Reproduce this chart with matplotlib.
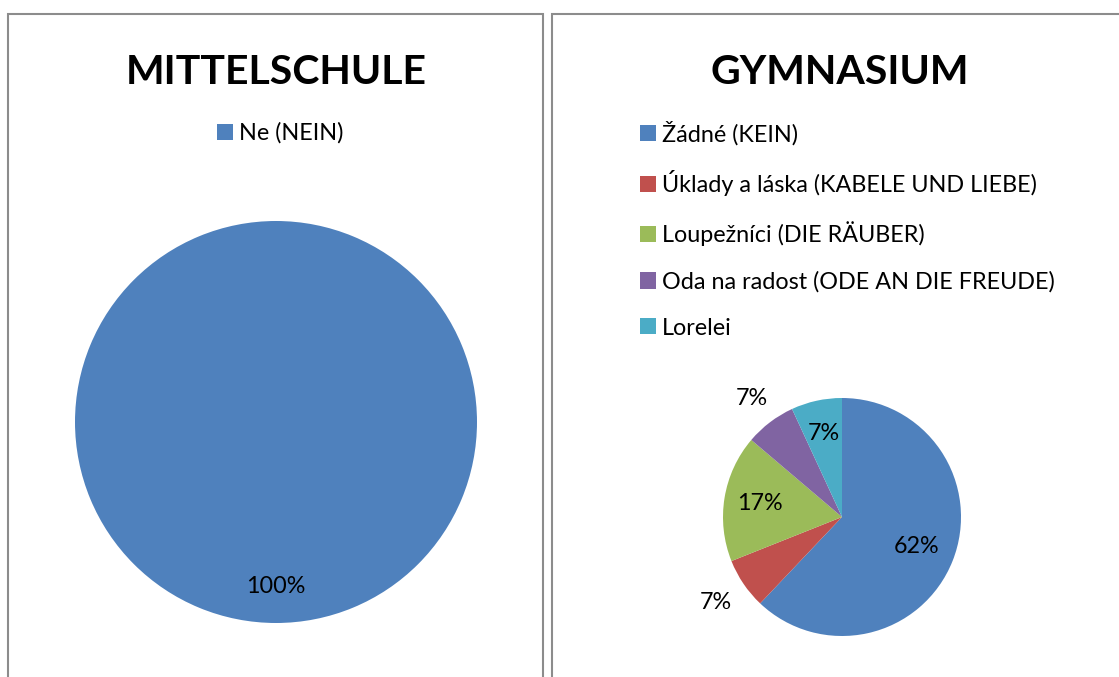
import matplotlib
matplotlib.use("Agg")
import matplotlib.pyplot as plt
from matplotlib.patches import Rectangle, Patch
import numpy as np

plt.rcParams['font.family'] = ['Lato', 'DejaVu Sans']

W, H = 1119, 677

# Data
ms_labels = ["Ne (NEIN)"]
ms_values = [100]
ms_pct_text = ["100%"]

gym_labels = ["Žádné (KEIN)", "Úklady a láska (KABELE UND LIEBE)",
              "Loupežníci (DIE RÄUBER)", "Oda na radost (ODE AN DIE FREUDE)",
              "Lorelei"]
gym_values = [18, 2, 5, 2, 2]
gym_pct_text = ["62%", "7%", "17%", "7%", "7%"]

colors = ["#4F81BD", "#C0504D", "#9BBB59", "#8064A2", "#4BACC6"]

fig = plt.figure(figsize=(W / 100, H / 100), dpi=100)

def fx(px):
    return px / W

def fy(py):
    return 1 - py / H

# Panel borders
border_col = "#8C8C8C"
fig.patches.append(Rectangle((fx(8), fy(700)), fx(543) - fx(8), fy(14) - fy(700),
                             transform=fig.transFigure, fill=False,
                             edgecolor=border_col, linewidth=1.5))
fig.patches.append(Rectangle((fx(552), fy(700)), fx(1140) - fx(552), fy(14) - fy(700),
                             transform=fig.transFigure, fill=False,
                             edgecolor=border_col, linewidth=1.5))

# Titles
fig.text(fx(276), fy(73), "MITTELSCHULE", ha="center", va="center",
         fontsize=29.5, fontweight="bold")
fig.text(fx(840), fy(73), "GYMNASIUM", ha="center", va="center",
         fontsize=29.5, fontweight="bold")

FS = 16.8


def make_pie(cx, cy, r, values, pct_texts, dists, cols):
    ax = fig.add_axes([fx(cx - r), fy(cy + r), fx(2 * r), (2 * r) / H])
    wedges, _ = ax.pie(values, colors=cols, startangle=90, counterclock=False,
                       radius=1, wedgeprops=dict(linewidth=0))
    total = float(sum(values))
    start = 90.0
    for v, t, d in zip(values, pct_texts, dists):
        span = 360.0 * v / total
        mid = np.deg2rad(start - span / 2)
        ax.text(d * np.cos(mid), d * np.sin(mid), t, ha="center", va="center",
                fontsize=FS, color="black")
        start -= span
    ax.set_xlim(-1, 1)
    ax.set_ylim(-1, 1)
    ax.set_aspect("equal")
    ax.axis("off")
    return wedges

w1 = make_pie(276, 422, 201, ms_values, ms_pct_text, [0.82], colors[:1])
w2 = make_pie(842, 517, 119, gym_values, gym_pct_text,
              [0.67, 1.28, 0.70, 1.25, 0.72], colors)

# Legends
h1 = [Patch(facecolor=c, edgecolor="none") for c in colors[:1]]
fig.legend(h1, ms_labels, loc="center", bbox_to_anchor=(fx(280), fy(133)),
           frameon=False, fontsize=FS, handlelength=0.68, handleheight=0.68,
           handletextpad=0.25, borderpad=0, borderaxespad=0)

h2 = [Patch(facecolor=c, edgecolor="none") for c in colors]
fig.legend(h2, gym_labels, loc="upper left", bbox_to_anchor=(fx(640), fy(121)),
           frameon=False, fontsize=FS, handlelength=0.68, handleheight=0.68,
           handletextpad=0.25, labelspacing=1.07, borderpad=0, borderaxespad=0)

fig.savefig("out.png", dpi=100)
